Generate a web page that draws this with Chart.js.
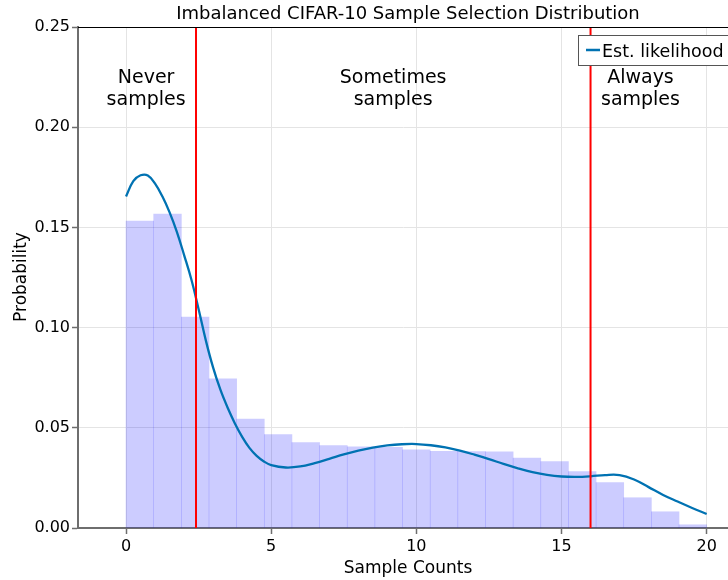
<!DOCTYPE html>
<html>
<head>
<meta charset="utf-8">
<script src="https://cdn.jsdelivr.net/npm/chart.js@4/dist/chart.umd.min.js"></script>
<style>
  html, body { margin: 0; padding: 0; background: #fff; overflow: hidden; }
  #wrap { width: 728px; height: 580px; position: relative; }
</style>
</head>
<body>
<div id="wrap"><canvas id="c" width="728" height="580"></canvas></div>
<script>
// Histogram of per-sample selection counts (density), 21 equal bins over [0, 20]
const binStart = 0;
const binEnd = 20;
const histDensity = [
  0.1532, 0.1567, 0.1053, 0.0744, 0.0544, 0.0466, 0.0426, 0.0411, 0.0405, 0.0403,
  0.0390, 0.0382, 0.0381, 0.0380, 0.0349, 0.0331, 0.0281, 0.0227, 0.0151, 0.0081,
  0.0016
];

// Kernel density estimate of the same counts
const kdeX = [0.00, 0.25, 0.50, 0.75, 1.00, 1.25, 1.50, 1.75, 2.00, 2.25, 2.50,
  2.75, 3.00, 3.25, 3.50, 3.75, 4.00, 4.25, 4.50, 4.75, 5.00, 5.50, 6.00, 6.50, 7.00,
  7.50, 8.00, 8.50, 9.00, 9.50, 10.00, 10.50, 11.00, 11.50, 12.00, 12.50, 13.00, 13.50,
  14.00, 14.50, 15.00, 15.50, 16.00, 16.50, 17.00, 17.50, 18.00, 18.50, 19.00, 19.50, 20.00];
const kdeY = [0.1654, 0.1731, 0.1760, 0.1759, 0.1718, 0.1655, 0.1575, 0.1478, 0.1362, 0.1240, 0.1092,
  0.0935, 0.0800, 0.0690, 0.0600, 0.0522, 0.0455, 0.0400, 0.0360, 0.0332, 0.0314, 0.0302, 0.0307, 0.0324, 0.0345,
  0.0367, 0.0386, 0.0401, 0.0412, 0.0418, 0.0419, 0.0413, 0.0402, 0.0386, 0.0366, 0.0344, 0.0320, 0.0298,
  0.0279, 0.0265, 0.0257, 0.0255, 0.0258, 0.0264, 0.0264, 0.0242, 0.0204, 0.0165, 0.0132, 0.0100, 0.0070];

// Cut-offs between the never / sometimes / always sampled groups
const thresholds = [2.41, 16.0];

const xTicks = [0, 5, 10, 15, 20];
const yTicks = [0.00, 0.05, 0.10, 0.15, 0.20, 0.25];

const regionLabels = [['Never', 'samples'], ['Sometimes', 'samples'], ['Always', 'samples']];
const regionCenters = [0.69, 9.2, 17.72];

const chartTitle = 'Imbalanced CIFAR-10 Sample Selection Distribution';
const xTitle = 'Sample Counts';
const yTitle = 'Probability';
const legendLabel = 'Est. likelihood';

const FONT = "'DejaVu Sans', sans-serif";
const KDE_COLOR = '#0072b2';
const SPINE = '#6e6e6e';
const GRID = '#e4e4e4';

const binWidth = (binEnd - binStart) / histDensity.length;
const barData = histDensity.map((v, i) => ({ x: binStart + (i + 0.5) * binWidth, y: v }));
const kdeData = kdeX.map((x, i) => ({ x, y: kdeY[i] }));
const thresholdSets = thresholds.map(t => ({
  type: 'line',
  data: [{ x: t, y: yTicks[0] }, { x: t, y: yTicks[yTicks.length - 1] }],
  borderColor: '#ff0000',
  borderWidth: 2,
  pointRadius: 0,
  order: 0
}));

const decorations = {
  id: 'decorations',
  afterDraw(chart) {
    const { ctx, chartArea, scales } = chart;
    const xs = scales.x;
    ctx.save();

    // top spine
    ctx.strokeStyle = '#000';
    ctx.lineWidth = 1;
    ctx.beginPath();
    ctx.moveTo(chartArea.left, chartArea.top + 0.5);
    ctx.lineTo(chartArea.right, chartArea.top + 0.5);
    ctx.stroke();

    // title
    ctx.fillStyle = '#000';
    ctx.textAlign = 'center';
    ctx.textBaseline = 'alphabetic';
    ctx.font = '18px ' + FONT;
    ctx.fillText(chartTitle, 408, 19);

    // axis titles
    ctx.font = '17px ' + FONT;
    ctx.fillText(xTitle, 408, 573);
    ctx.save();
    ctx.translate(26, 277);
    ctx.rotate(-Math.PI / 2);
    ctx.fillText(yTitle, 0, 0);
    ctx.restore();

    // region labels
    ctx.font = '19px ' + FONT;
    regionLabels.forEach((lines, i) => {
      const px = xs.getPixelForValue(regionCenters[i]);
      lines.forEach((ln, j) => ctx.fillText(ln, px, 82.5 + j * 22));
    });

    // legend
    ctx.fillStyle = '#fff';
    ctx.fillRect(578.5, 35.5, 180, 30);
    ctx.strokeStyle = '#555';
    ctx.lineWidth = 1;
    ctx.strokeRect(578.5, 35.5, 180, 30);
    ctx.strokeStyle = KDE_COLOR;
    ctx.lineWidth = 2.5;
    ctx.beginPath();
    ctx.moveTo(586, 50);
    ctx.lineTo(600, 50);
    ctx.stroke();
    ctx.fillStyle = '#000';
    ctx.textAlign = 'left';
    ctx.font = '17.5px ' + FONT;
    ctx.fillText(legendLabel, 602, 56.5);

    ctx.restore();
  }
};

new Chart(document.getElementById('c'), {
  type: 'bar',
  data: {
    datasets: [
      ...thresholdSets,
      {
        type: 'line',
        data: kdeData,
        borderColor: KDE_COLOR,
        borderWidth: 2.3,
        pointRadius: 0,
        tension: 0.4,
        order: 1
      },
      {
        type: 'bar',
        data: barData,
        backgroundColor: 'rgba(0,0,255,0.2)',
        borderWidth: 0,
        barPercentage: 1,
        categoryPercentage: 1,
        order: 2
      }
    ]
  },
  options: {
    responsive: false,
    animation: false,
    layout: { padding: { top: 27, right: 0, left: 0, bottom: 0 } },
    plugins: { legend: { display: false }, tooltip: { enabled: false }, title: { display: false } },
    scales: {
      x: {
        type: 'linear',
        offset: false,
        min: -1.655,
        max: 20.735,
        afterBuildTicks(axis) { axis.ticks = xTicks.map(v => ({ value: v })); },
        afterFit(axis) { axis.height = 52; },
        ticks: {
          font: { family: FONT, size: 16 },
          color: '#000',
          padding: 3,
          maxRotation: 0,
          callback: v => String(v)
        },
        grid: { offset: false, color: GRID, lineWidth: 1, tickLength: 6, tickColor: SPINE, tickWidth: 1.5 },
        border: { color: SPINE, width: 2 }
      },
      y: {
        min: 0,
        max: 0.25,
        afterBuildTicks(axis) { axis.ticks = yTicks.map(v => ({ value: v })); },
        afterFit(axis) { axis.width = 78; },
        ticks: {
          font: { family: FONT, size: 16 },
          color: '#000',
          padding: 2,
          callback: v => Number(v).toFixed(2)
        },
        grid: { color: GRID, lineWidth: 1, tickLength: 6, tickColor: SPINE, tickWidth: 1.5 },
        border: { color: SPINE, width: 2 }
      }
    }
  },
  plugins: [decorations]
});
</script>
</body>
</html>
